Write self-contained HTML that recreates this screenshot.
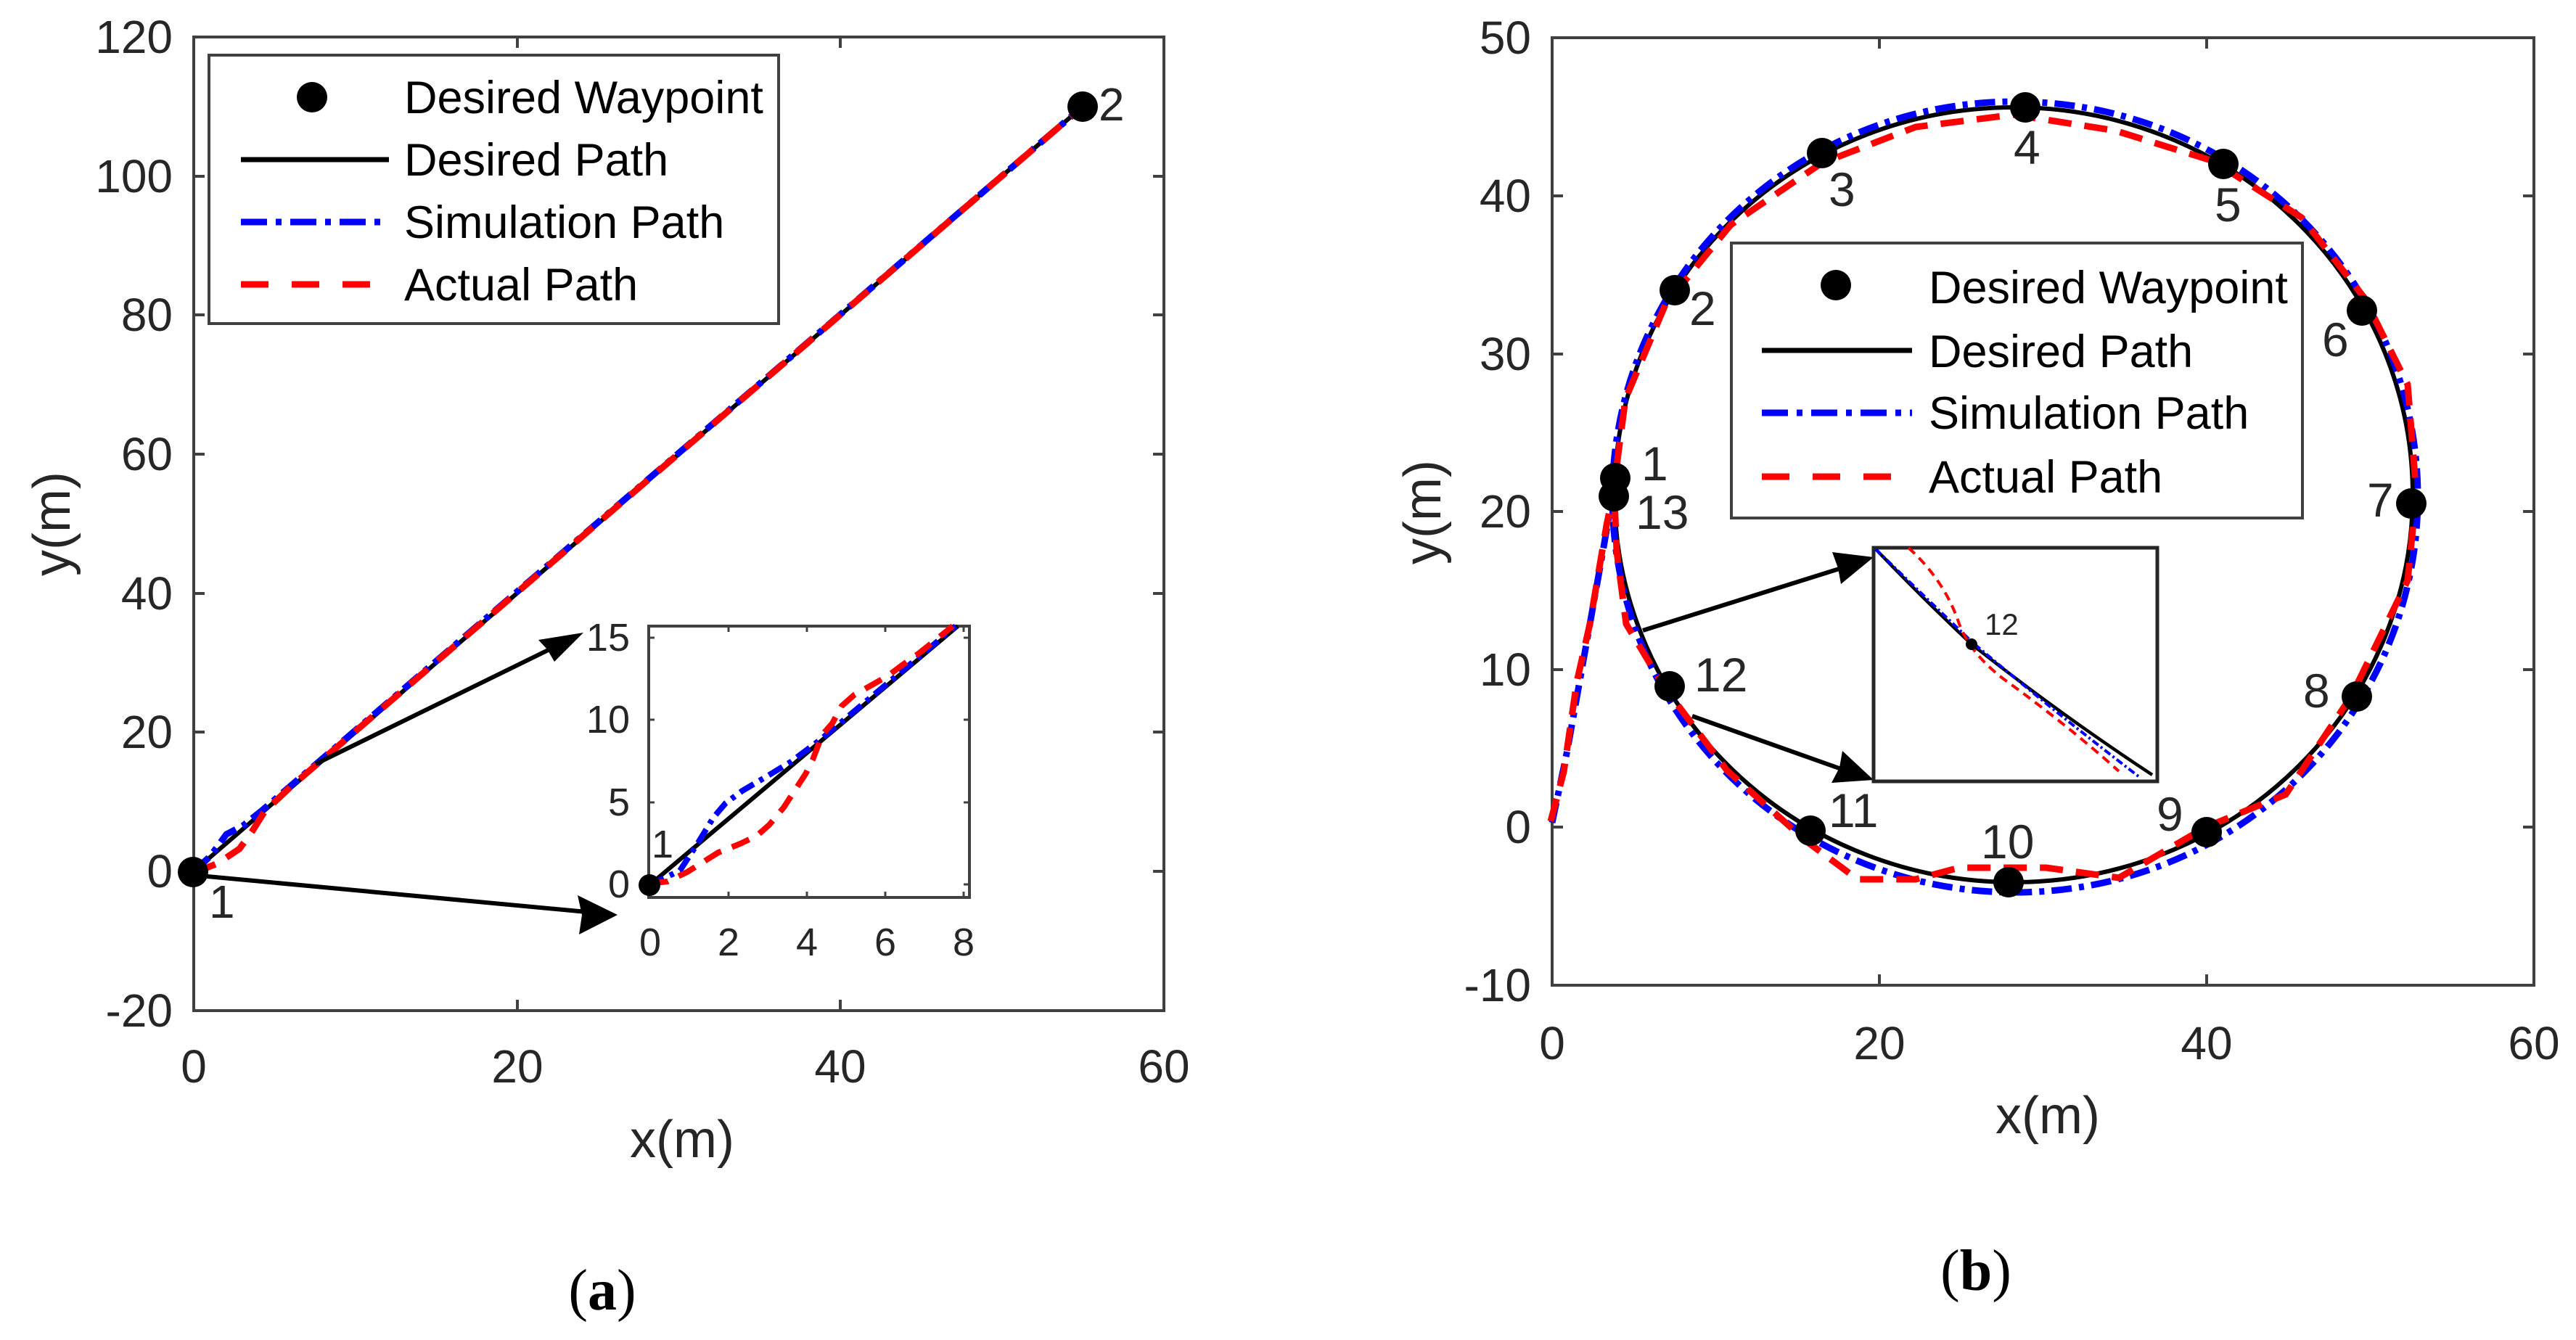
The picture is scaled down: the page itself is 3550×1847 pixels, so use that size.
<!DOCTYPE html>
<html><head><meta charset="utf-8"><style>
html,body{margin:0;padding:0;background:#fff;}
svg{display:block;}
text{font-family:"Liberation Sans",Arial,sans-serif;fill:#262626;}
</style></head><body>
<svg width="3550" height="1847" viewBox="0 0 3550 1847" xmlns="http://www.w3.org/2000/svg">

<!-- ================= PLOT A ================= -->
<g stroke="#404040" stroke-width="4" fill="none">
<rect x="267" y="51" width="1337" height="1342"/>
<path d="M713,1393v-15M1158,1393v-15M713,51v15M1158,51v15"/>
<path d="M267,1201h15M267,1009h15M267,818h15M267,626h15M267,434h15M267,243h15M1604,1201h-15M1604,1009h-15M1604,818h-15M1604,626h-15M1604,434h-15M1604,243h-15"/>
</g>
<g font-size="64" text-anchor="end">
<text x="238" y="73">120</text>
<text x="238" y="265">100</text>
<text x="238" y="456">80</text>
<text x="238" y="648">60</text>
<text x="238" y="840">40</text>
<text x="238" y="1031">20</text>
<text x="238" y="1223">0</text>
<text x="238" y="1415">-20</text>
</g>
<g font-size="64" text-anchor="middle">
<text x="267" y="1492">0</text>
<text x="713" y="1492">20</text>
<text x="1158" y="1492">40</text>
<text x="1604" y="1492">60</text>
<text x="940" y="1595" font-size="72">x(m)</text>
</g>
<text x="0" y="0" font-size="72" text-anchor="middle" transform="translate(96,722) rotate(-90)">y(m)</text>

<!-- paths a -->
<line x1="267" y1="1201" x2="1492" y2="147" stroke="#000" stroke-width="6"/>
<polyline points="267,1201 290,1180 312,1150 335,1138 360,1118 1492,147" fill="none" stroke="#0000ff" stroke-width="9" stroke-dasharray="28,10,7,10"/>
<polyline points="267,1203 300,1190 330,1170 348,1145 365,1118 400,1085 1492,147" fill="none" stroke="#ff0000" stroke-width="9" stroke-dasharray="32,18"/>
<circle cx="266" cy="1202" r="21" fill="#000"/>
<circle cx="1492" cy="147" r="21" fill="#000"/>
<text x="1514" y="166" font-size="64">2</text>
<text x="288" y="1265" font-size="64">1</text>

<!-- arrows a -->
<line x1="435" y1="1053" x2="780" y2="884" stroke="#000" stroke-width="6"/>
<path d="M804,872 l-62,10 l12,13 l10,17 z" fill="#000"/>
<line x1="275" y1="1207" x2="830" y2="1259" stroke="#000" stroke-width="6"/>
<path d="M851,1261 l-55,-27 l6,27 l-4,27 z" fill="#000"/>

<!-- legend a -->
<rect x="288" y="76" width="785" height="370" fill="#fff" stroke="#404040" stroke-width="4"/>
<circle cx="430" cy="134" r="21" fill="#000"/>
<line x1="332" y1="220" x2="536" y2="220" stroke="#000" stroke-width="7"/>
<line x1="332" y1="306" x2="536" y2="306" stroke="#0000ff" stroke-width="9" stroke-dasharray="36,12,8,12"/>
<line x1="332" y1="392" x2="536" y2="392" stroke="#ff0000" stroke-width="9" stroke-dasharray="38,32"/>
<g font-size="63">
<text x="557" y="156" style="fill:#000">Desired Waypoint</text>
<text x="557" y="242" style="fill:#000">Desired Path</text>
<text x="557" y="328" style="fill:#000">Simulation Path</text>
<text x="557" y="414" style="fill:#000">Actual Path</text>
</g>

<!-- inset a -->
<rect x="894" y="863" width="442" height="374" fill="#fff" stroke="#404040" stroke-width="4"/>
<g stroke="#404040" stroke-width="3">
<path d="M1004,1237v-8M1112,1237v-8M1220,1237v-8M1328,1237v-8M1004,863v8M1112,863v8M1220,863v8M1328,863v8"/>
<path d="M894,1106h8M894,992h8M894,879h8M1336,1219h-8M1336,1106h-8M1336,992h-8M1336,879h-8"/>
</g>
<line x1="895" y1="1220" x2="1320" y2="863" stroke="#000" stroke-width="6"/>
<polyline points="895,1220 937,1200 963,1160 983,1127 1000,1107 1023,1090 1057,1070 1090,1050 1130,1020 1317,863" fill="none" stroke="#0000ff" stroke-width="8" stroke-dasharray="22,9,6,9"/>
<polyline points="895,1218 920,1215 947,1202 990,1175 1020,1163 1043,1152 1060,1137 1080,1113 1093,1093 1110,1067 1120,1047 1133,1013 1147,997 1160,973 1177,958 1200,945 1223,932 1243,917 1267,900 1313,863" fill="none" stroke="#ff0000" stroke-width="8" stroke-dasharray="26,16"/>
<circle cx="895" cy="1220" r="15" fill="#000"/>
<text x="898" y="1182" font-size="54">1</text>
<g font-size="54" text-anchor="end">
<text x="868" y="897">15</text>
<text x="868" y="1010">10</text>
<text x="868" y="1124">5</text>
<text x="868" y="1237">0</text>
</g>
<g font-size="54" text-anchor="middle">
<text x="896" y="1317">0</text>
<text x="1004" y="1317">2</text>
<text x="1112" y="1317">4</text>
<text x="1220" y="1317">6</text>
<text x="1328" y="1317">8</text>
</g>

<text x="830" y="1805" font-size="80" text-anchor="middle" style="font-family:'Liberation Serif',serif;fill:#000">(<tspan font-weight="bold">a</tspan>)</text>

<!-- ================= PLOT B ================= -->
<g stroke="#404040" stroke-width="4" fill="none">
<rect x="2139" y="52" width="1353" height="1306"/>
<path d="M2590,1358v-15M3041,1358v-15M2590,52v15M3041,52v15"/>
<path d="M2139,1140h15M2139,923h15M2139,705h15M2139,488h15M2139,270h15M3492,1140h-15M3492,923h-15M3492,705h-15M3492,488h-15M3492,270h-15"/>
</g>
<g font-size="64" text-anchor="end">
<text x="2110" y="74">50</text>
<text x="2110" y="292">40</text>
<text x="2110" y="510">30</text>
<text x="2110" y="727">20</text>
<text x="2110" y="945">10</text>
<text x="2110" y="1162">0</text>
<text x="2110" y="1380">-10</text>
</g>
<g font-size="64" text-anchor="middle">
<text x="2139" y="1460">0</text>
<text x="2590" y="1460">20</text>
<text x="3041" y="1460">40</text>
<text x="3492" y="1460">60</text>
<text x="2822" y="1562" font-size="72">x(m)</text>
</g>
<text x="0" y="0" font-size="72" text-anchor="middle" transform="translate(1985,706) rotate(-90)">y(m)</text>

<ellipse cx="2775" cy="682" rx="550" ry="534" fill="none" stroke="#000" stroke-width="6"/>
<path d="M2139,1140 L2160,1040 L2185,900 L2210,760 L2222,690 A555 545 0 1 1 2222,692" fill="none" stroke="#0000ff" stroke-width="9" stroke-dasharray="28,10,7,10" transform="translate(0,-6)"/>
<polyline points="2137,1132 2155,1064 2173,940 2191,860 2214,724 2223,680 2240,550 2295,420 2385,310 2510,225 2640,175 2775,158 2915,180 3050,222 3172,300 3258,410 3318,530 3330,680 3318,800 3240,960 3150,1095 3040,1140 2920,1210 2820,1196 2700,1196 2640,1212 2560,1212 2490,1160 2380,1062 2292,945 2241,860 2228,760 2225,690" fill="none" stroke="#ff0000" stroke-width="9" stroke-dasharray="32,18"/>

<g fill="#000">
<circle cx="2226" cy="659" r="21"/>
<circle cx="2224" cy="684" r="21"/>
<circle cx="2308" cy="400" r="21"/>
<circle cx="2511" cy="211" r="21"/>
<circle cx="2791" cy="148" r="21"/>
<circle cx="3064" cy="226" r="21"/>
<circle cx="3255" cy="428" r="21"/>
<circle cx="3323" cy="694" r="21"/>
<circle cx="3248" cy="960" r="21"/>
<circle cx="3041" cy="1147" r="21"/>
<circle cx="2768" cy="1216" r="21"/>
<circle cx="2495" cy="1145" r="21"/>
<circle cx="2301" cy="946" r="21"/>
</g>
<g font-size="66">
<text x="2262" y="662">1</text>
<text x="2254" y="729">13</text>
<text x="2328" y="448">2</text>
<text x="2520" y="284">3</text>
<text x="2775" y="226">4</text>
<text x="3052" y="305">5</text>
<text x="3200" y="491">6</text>
<text x="3262" y="712">7</text>
<text x="3174" y="975">8</text>
<text x="2972" y="1145">9</text>
<text x="2730" y="1183">10</text>
<text x="2520" y="1140">11</text>
<text x="2335" y="953">12</text>
</g>

<line x1="2264" y1="869" x2="2560" y2="776" stroke="#000" stroke-width="6"/>
<path d="M2582,768 l-57,-7 l8,22 l4,22 z" fill="#000"/>
<line x1="2332" y1="987" x2="2560" y2="1068" stroke="#000" stroke-width="6"/>
<path d="M2582,1075 l-43,-40 l-4,23 l-11,21 z" fill="#000"/>

<rect x="2386" y="335" width="787" height="379" fill="#fff" stroke="#404040" stroke-width="4"/>
<circle cx="2530" cy="393" r="21" fill="#000"/>
<line x1="2428" y1="483" x2="2635" y2="483" stroke="#000" stroke-width="7"/>
<line x1="2428" y1="569" x2="2635" y2="569" stroke="#0000ff" stroke-width="9" stroke-dasharray="36,12,8,12"/>
<line x1="2428" y1="657" x2="2635" y2="657" stroke="#ff0000" stroke-width="9" stroke-dasharray="38,32"/>
<g font-size="63">
<text x="2658" y="418" style="fill:#000">Desired Waypoint</text>
<text x="2658" y="506" style="fill:#000">Desired Path</text>
<text x="2658" y="591" style="fill:#000">Simulation Path</text>
<text x="2658" y="679" style="fill:#000">Actual Path</text>
</g>

<rect x="2582" y="755" width="391" height="322" fill="#fff" stroke="#262626" stroke-width="5"/>
<path d="M2585,757 Q2650,825 2717,888 Q2840,985 2966,1068" fill="none" stroke="#000" stroke-width="4.5"/>
<path d="M2585,757 Q2655,825 2720,887 Q2830,980 2947,1070" fill="none" stroke="#0000ff" stroke-width="4" stroke-dasharray="10,4,3,4"/>
<path d="M2630,755 Q2680,800 2700,860 Q2715,900 2760,935 Q2850,1000 2920,1063" fill="none" stroke="#ff0000" stroke-width="4" stroke-dasharray="12,8"/>
<circle cx="2717" cy="888" r="8" fill="#000"/>
<text x="2735" y="875" font-size="42">12</text>

<text x="2723" y="1778" font-size="80" text-anchor="middle" style="font-family:'Liberation Serif',serif;fill:#000">(<tspan font-weight="bold">b</tspan>)</text>
</svg>
</body></html>
